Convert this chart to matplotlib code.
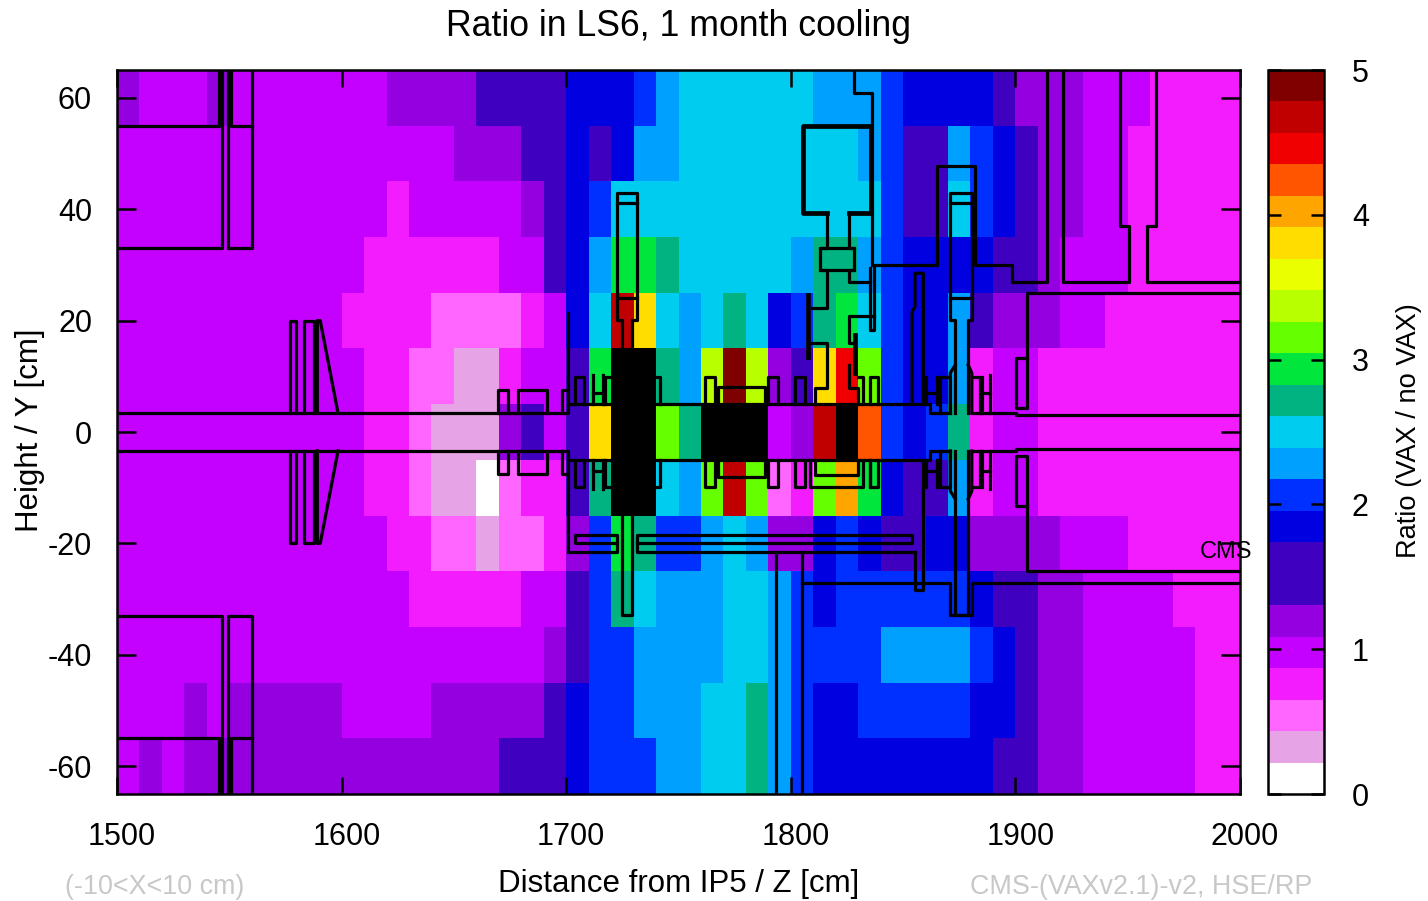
import matplotlib
matplotlib.use('Agg')
import matplotlib.pyplot as plt
import matplotlib.transforms as mtrans
import numpy as np
from matplotlib.colors import BoundaryNorm, ListedColormap

plt.rcParams['font.family'] = ['Liberation Sans', 'DejaVu Sans']
plt.rcParams['axes.unicode_minus'] = False

# palette of the colour box, lowest level first
palette = ['#ffffff', '#e6a3e6', '#ff66ff', '#f21cff', '#c400ff', '#9400e0',
           '#4000c0', '#4000c0', '#0000e0', '#0030ff', '#00a0ff', '#00ccf0',
           '#00b380', '#00e63c', '#66ff00', '#b8ff00', '#eaff00', '#ffdd00',
           '#ffa500', '#ff5500', '#f00000', '#c00000', '#800000']

B = 23  # off scale, drawn black

# colour level per 10 cm bin, 1500..2000 cm, one list per row of Y
row_p60 = [5, 4, 4, 4, 5, 4, 4, 4, 4, 4, 4, 4, 5, 5, 5, 5, 6, 6, 6, 6,
           8, 8, 8, 9, 10, 11, 11, 11, 11, 11, 11, 10, 10, 10, 9,
           8, 8, 8, 8, 6, 5, 5, 5, 4, 4, 4, 3, 3, 3, 3]
row_p50 = [4, 4, 4, 4, 4, 4, 4, 4, 4, 4, 4, 4, 4, 4, 4, 5, 5, 5, 6, 6,
           8, 6, 8, 10, 10, 11, 11, 11, 11, 11, 11, 11, 11, 10, 9,
           6, 6, 10, 9, 8, 6, 5, 5, 4, 4, 3, 3, 3, 3, 3]
row_p40 = [4, 4, 4, 4, 4, 4, 4, 4, 4, 4, 4, 4, 3, 4, 4, 4, 4, 4, 5, 6,
           8, 9, 11, 11, 11, 11, 11, 11, 11, 11, 11, 11, 11, 11, 9,
           6, 6, 11, 9, 8, 6, 5, 5, 4, 4, 3, 3, 3, 3, 3]
row_p30 = [4, 4, 4, 4, 4, 4, 4, 4, 4, 4, 4, 3, 3, 3, 3, 3, 3, 4, 4, 6,
           8, 10, 13, 13, 12, 11, 11, 11, 11, 11, 10, 12, 12, 10, 9,
           8, 8, 8, 8, 6, 6, 5, 4, 4, 4, 3, 3, 3, 3, 3]
row_p20 = [4, 4, 4, 4, 4, 4, 4, 4, 4, 4, 3, 3, 3, 3, 2, 2, 2, 2, 3, 4,
           8, 11, 21, 17, 11, 10, 11, 12, 11, 8, 9, 12, 13, 11, 9,
           8, 8, 10, 6, 5, 5, 5, 4, 4, 3, 3, 3, 3, 3, 3]
row_p10 = [4, 4, 4, 4, 4, 4, 4, 4, 4, 4, 4, 3, 3, 2, 2, 1, 1, 3, 4, 4,
           6, 13, B, B, 12, 10, 15, 22, 15, 5, 6, 17, 20, 14, 9,
           8, 8, 10, 3, 4, 4, 3, 3, 3, 3, 3, 3, 3, 3, 3]
row_0 = [4, 4, 4, 4, 4, 4, 4, 4, 4, 4, 4, 3, 3, 2, 1, 1, 1, 5, 6, 4,
         6, 17, B, B, 14, 12, B, B, B, 4, 5, 21, B, 19, 9,
         8, 9, 12, 3, 4, 4, 3, 3, 3, 3, 3, 3, 3, 3, 3]
row_m10 = [4, 4, 4, 4, 4, 4, 4, 4, 4, 4, 4, 3, 3, 2, 1, 1, 0, 2, 3, 3,
           6, 12, B, B, 11, 10, 14, 21, 14, 2, 3, 14, 18, 13, 8,
           6, 6, 10, 3, 4, 4, 3, 3, 3, 3, 3, 3, 3, 3, 3]
row_m20 = [4, 4, 4, 4, 4, 4, 4, 4, 4, 4, 4, 4, 3, 3, 2, 2, 1, 2, 2, 3,
           5, 9, 13, 12, 9, 9, 10, 11, 10, 5, 5, 8, 9, 8, 6,
           6, 8, 8, 5, 5, 5, 5, 4, 4, 4, 3, 3, 3, 3, 3]
row_m30 = [4, 4, 4, 4, 4, 4, 4, 4, 4, 4, 4, 4, 4, 3, 3, 3, 3, 3, 4, 4,
           6, 9, 12, 11, 10, 10, 10, 11, 11, 10, 9, 8, 9, 9, 9,
           9, 9, 9, 8, 6, 6, 5, 5, 4, 4, 4, 4, 3, 3, 3]
row_m40 = [4, 4, 4, 4, 4, 4, 4, 4, 4, 4, 4, 4, 4, 4, 4, 4, 4, 4, 4, 5,
           6, 9, 9, 10, 10, 10, 10, 11, 11, 10, 9, 9, 9, 9, 10,
           10, 10, 10, 9, 8, 6, 5, 5, 4, 4, 4, 4, 4, 3, 3]
row_m50 = [4, 4, 4, 5, 4, 5, 5, 5, 5, 5, 4, 4, 4, 4, 5, 5, 5, 5, 5, 6,
           8, 9, 9, 10, 10, 10, 11, 11, 12, 10, 9, 8, 8, 9, 9,
           9, 9, 9, 8, 8, 6, 5, 5, 4, 4, 4, 4, 4, 3, 3]
row_m60 = [4, 5, 4, 5, 5, 5, 5, 5, 5, 5, 5, 5, 5, 5, 5, 5, 5, 6, 6, 6,
           8, 9, 9, 9, 10, 10, 11, 11, 12, 10, 9, 8, 8, 8, 8,
           8, 8, 8, 8, 6, 6, 5, 5, 4, 4, 4, 4, 4, 3, 3]

rows = [row_p60, row_p50, row_p40, row_p30, row_p20, row_p10, row_0,
        row_m10, row_m20, row_m30, row_m40, row_m50, row_m60]

z_edges = np.arange(1500, 2001, 10)
y_edges = np.arange(-65, 66, 10)
level_edges = np.linspace(0, 5, len(palette) + 1)

x_ticks = [1500, 1600, 1700, 1800, 1900, 2000]
y_ticks = [-60, -40, -20, 0, 20, 40, 60]
bar_ticks = [0, 1, 2, 3, 4, 5]

# geometry outlines as (z, y), drawn at +y and at -y
both_sides = [
    [(1500, 55), (1545.5, 55), (1545.5, 65)],
    [(1500, 33), (1546.7, 33), (1546.7, 65)],
    [(1549.2, 65), (1549.2, 33), (1560, 33), (1560, 65)],
    [(1550.6, 65), (1550.6, 55), (1560, 55)],
    [(1500, 3.4), (1701, 3.4), (1701, 5.1), (1862, 5.1), (1862, 3.4), (1871, 3.4)],
    [(1880.6, 3.4), (1900.3, 3.4), (1900.3, 3), (2000, 3)],
    [(1577, 3.4), (1577, 20), (1579.5, 20), (1579.5, 3.4)],
    [(1583.3, 3.4), (1583.3, 20), (1587.7, 20), (1587.7, 3.4)],
    [(1589.2, 3.4), (1589.2, 20), (1590.5, 20), (1598.4, 3.4)],
    [(1669.7, 3.4), (1669.7, 7.5), (1674.1, 7.5), (1674.1, 3.4)],
    [(1678.7, 3.4), (1678.7, 7.5), (1691.5, 7.5), (1691.5, 3.4)],
    [(1698, 3.4), (1698, 7.5), (1701, 7.5)],
    [(1701, 5.1), (1701, 21.4)],
    [(1704, 5.1), (1704, 9.9), (1708, 9.9), (1708, 5.1)],
    [(1712, 5.1), (1712, 10.3)],
    [(1716.5, 5.1), (1716.5, 10.3)],
    [(1712, 7), (1716.5, 7)],
    [(1717.3, 5.1), (1717.3, 9.9), (1720.3, 9.9)],
    [(1740, 9.9), (1741.8, 9.9), (1741.8, 5.1)],
    [(1761.8, 5.1), (1761.8, 9.9), (1766.3, 9.9), (1766.3, 5.1)],
    [(1767.8, 5.1), (1767.8, 8.1), (1788.6, 8.1), (1788.6, 5.1)],
    [(1790, 5.1), (1790, 9.9), (1794.5, 9.9), (1794.5, 5.1)],
    [(1802, 5.1), (1802, 9.9), (1806.4, 9.9), (1806.4, 5.1)],
    [(1835.3, 5.1), (1835.3, 9.9), (1838.9, 9.9), (1838.9, 5.1)],
    [(1860, 5.1), (1860, 9.9)],
    [(1865, 5.1), (1865, 9.9)],
    [(1860, 7), (1865, 7)],
    [(1866.5, 3.4), (1866.5, 9.9), (1871, 9.9), (1871, 3.4)],
    [(1871, 3.4), (1871, 10.6), (1873.2, 12)],
    [(1880.6, 3.4), (1880.6, 10.6), (1879, 12)],
    [(1880.6, 9.9), (1884.3, 9.9), (1884.3, 3.4)],
    [(1885, 3.4), (1885, 9.9)],
    [(1888.7, 3.4), (1888.7, 10.3)],
    [(1885, 7), (1888.7, 7)],
    [(2000, 25), (1905, 25), (1905, 4.3), (1900.3, 4.3), (1900.3, 13.3), (1905, 13.3)],
]

upper_only = [
    [(1724.7, 15), (1724.7, 20.1), (1722.5, 20.1), (1722.5, 42.9), (1731.7, 42.9),
     (1731.7, 20.1), (1729.2, 20.1), (1729.2, 15)],
    [(1722.5, 41.1), (1731.7, 41.1)],
    [(1722.5, 24), (1731.7, 24)],
    [(1809.3, 22.3), (1816, 22.3), (1816, 29), (1813, 29), (1813, 33), (1816, 33), (1816, 39.4)],
    [(1825.7, 39.4), (1825.7, 33), (1828.2, 33), (1828.2, 29), (1825.7, 29),
     (1825.7, 27), (1835.3, 27)],
    [(1813, 33), (1828.2, 33)],
    [(1813, 29), (1828.2, 29)],
    [(1828.2, 65), (1828.2, 60.9), (1836, 60.9), (1836, 30)],
    [(1835.3, 29.5), (1835.3, 18.3), (1837.2, 18.3), (1837.2, 29.5)],
    [(1837, 30), (1865, 30), (1865, 47.8), (1882, 47.8), (1882, 30), (1898.4, 30),
     (1898.4, 27), (1914, 27), (1914, 65)],
    [(1921.4, 65), (1921.4, 27), (1950.8, 27), (1950.8, 37), (1946.6, 37), (1946.6, 65)],
    [(1962.7, 65), (1962.7, 37), (1958.8, 37), (1958.8, 27), (2000, 27)],
    [(1807.8, 16), (1816, 16), (1816, 7.9), (1810.9, 7.9), (1810.9, 5.1)],
    [(1837, 20.8), (1825.7, 20.8), (1825.7, 16), (1828.6, 16)],
    [(1825.7, 12), (1825.7, 7.9), (1830.1, 7.9), (1830.1, 5.1)],
    [(1830.1, 9.9), (1832, 9.9), (1832, 5.1)],
    [(1854, 5.1), (1854, 21.6), (1855.3, 22.5), (1855.3, 28.5), (1859, 28.5), (1859, 5.1)],
    [(1873.2, 3.4), (1873.2, 20.1), (1871, 20.1), (1871, 42.9), (1880.6, 42.9),
     (1880.6, 20.1), (1879, 20.1), (1879, 3.4)],
    [(1871, 41.1), (1880.6, 41.1)],
    [(1871, 24), (1880.6, 24)],
]

upper_thick = [
    [(1816, 39.4), (1805.5, 39.4), (1805.5, 55), (1835.8, 55), (1835.8, 39.4), (1825.7, 39.4)],
    [(1807.8, 24.6), (1807.8, 13.5)],
    [(1828.6, 17.4), (1828.6, 10.6)],
]

lower_only = [
    [(1724.7, -15), (1724.7, -32.9), (1729.2, -32.9), (1729.2, -15)],
    [(1701, -21.6), (1722.7, -21.6), (1722.7, -18.5), (1704, -18.5), (1704, -19.9), (1722.7, -19.9)],
    [(1855.3, -21.6), (1731.6, -21.6), (1731.6, -18.5), (1854, -18.5), (1854, -19.9), (1731.6, -19.9)],
    [(1855.3, -21.6), (1855.3, -28.4), (1859, -28.4), (1859, -5.1)],
    [(1793.3, -21.6), (1793.3, -65)],
    [(1805, -21.6), (1805, -65)],
    [(1805, -27.1), (1871, -27.1), (1871, -32.9), (1880.6, -32.9), (1880.6, -27.1), (2000, -27.1)],
    [(1873.2, -3.4), (1873.2, -32.9), (1879, -32.9), (1879, -3.4)],
    [(1808.6, -5.1), (1808.6, -9.9), (1832.2, -9.9), (1832.2, -5.1)],
    [(1810.9, -5.1), (1810.9, -7.7), (1830.1, -7.7), (1830.1, -5.1)],
    [(1835.3, -5.1), (1835.3, -9.9)],
]

W, H = 1428, 901

fig = plt.figure(figsize=(W / 100, H / 100), dpi=100)
ax = fig.add_axes([117 / W, 1 - 794 / H, 1123 / W, 724 / H])
cax = fig.add_axes([1268 / W, 1 - 794 / H, 56 / W, 724 / H])

levels = np.array(rows, dtype=float)[::-1]
ratio = (levels + 0.5) * 5 / len(palette)

cmap = ListedColormap(palette).with_extremes(over='black')
norm = BoundaryNorm(level_edges, len(palette))
mesh = ax.pcolormesh(z_edges, y_edges, ratio, cmap=cmap, norm=norm, linewidth=0)


def draw(path, sign=1, lw=2.3):
    pts = np.array(path)
    ax.plot(pts[:, 0], sign * pts[:, 1], color='black', lw=lw, solid_joinstyle='round')


for path in both_sides:
    draw(path)
    draw(path, -1)
for path in upper_only:
    draw(path)
for path in upper_thick:
    draw(path, lw=3.4)
for path in lower_only:
    draw(path)

ax.set_xlim(1500, 2000)
ax.set_ylim(-65, 65)
ax.set_xticks(x_ticks)
ax.set_yticks(y_ticks)
ax.tick_params(axis='x', direction='in', top=True, length=12, width=1.8, labelsize=22, pad=20)
ax.tick_params(axis='y', direction='in', right=True, length=13.5, width=1.8, labelsize=22, pad=18)
for s in ax.spines.values():
    s.set_linewidth(1.8)

# x tick labels sit a little right of their ticks in the original
shift = mtrans.ScaledTranslation(3.6 / 72, 0, fig.dpi_scale_trans)
for lab in ax.get_xticklabels():
    lab.set_transform(lab.get_transform() + shift)

ax.text(1982, -21.6, 'CMS', fontsize=17, color='black', va='center', ha='left', clip_on=False)

cbar = fig.colorbar(mesh, cax=cax, ticks=bar_ticks, spacing='proportional')
cbar.minorticks_off()
cbar.outline.set_linewidth(1.8)
cax.tick_params(axis='y', direction='in', left=True, right=True, length=9.5, width=1.8,
                labelsize=22, pad=20)

fig.text(679 / W, 1 - 26 / H, 'Ratio in LS6, 1 month cooling', fontsize=25.7, ha='center', va='center')
fig.text(679 / W, 1 - 884 / H, 'Distance from IP5 / Z [cm]', fontsize=22.5, ha='center', va='center')
fig.text(30 / W, 1 - 430 / H, 'Height / Y [cm]', fontsize=22.5, rotation=90, ha='center', va='center')
fig.text(1409 / W, 1 - 431 / H, 'Ratio (VAX / no VAX)', fontsize=19.6, rotation=90, ha='center', va='center')
fig.text(65 / W, 1 - 887 / H, '(-10<X<10 cm)', fontsize=19.4, color='#c8c8c8', ha='left', va='center')
fig.text(970 / W, 1 - 887 / H, 'CMS-(VAXv2.1)-v2, HSE/RP', fontsize=19.4, color='#c8c8c8', ha='left', va='center')

fig.savefig('out.png', dpi=100)
